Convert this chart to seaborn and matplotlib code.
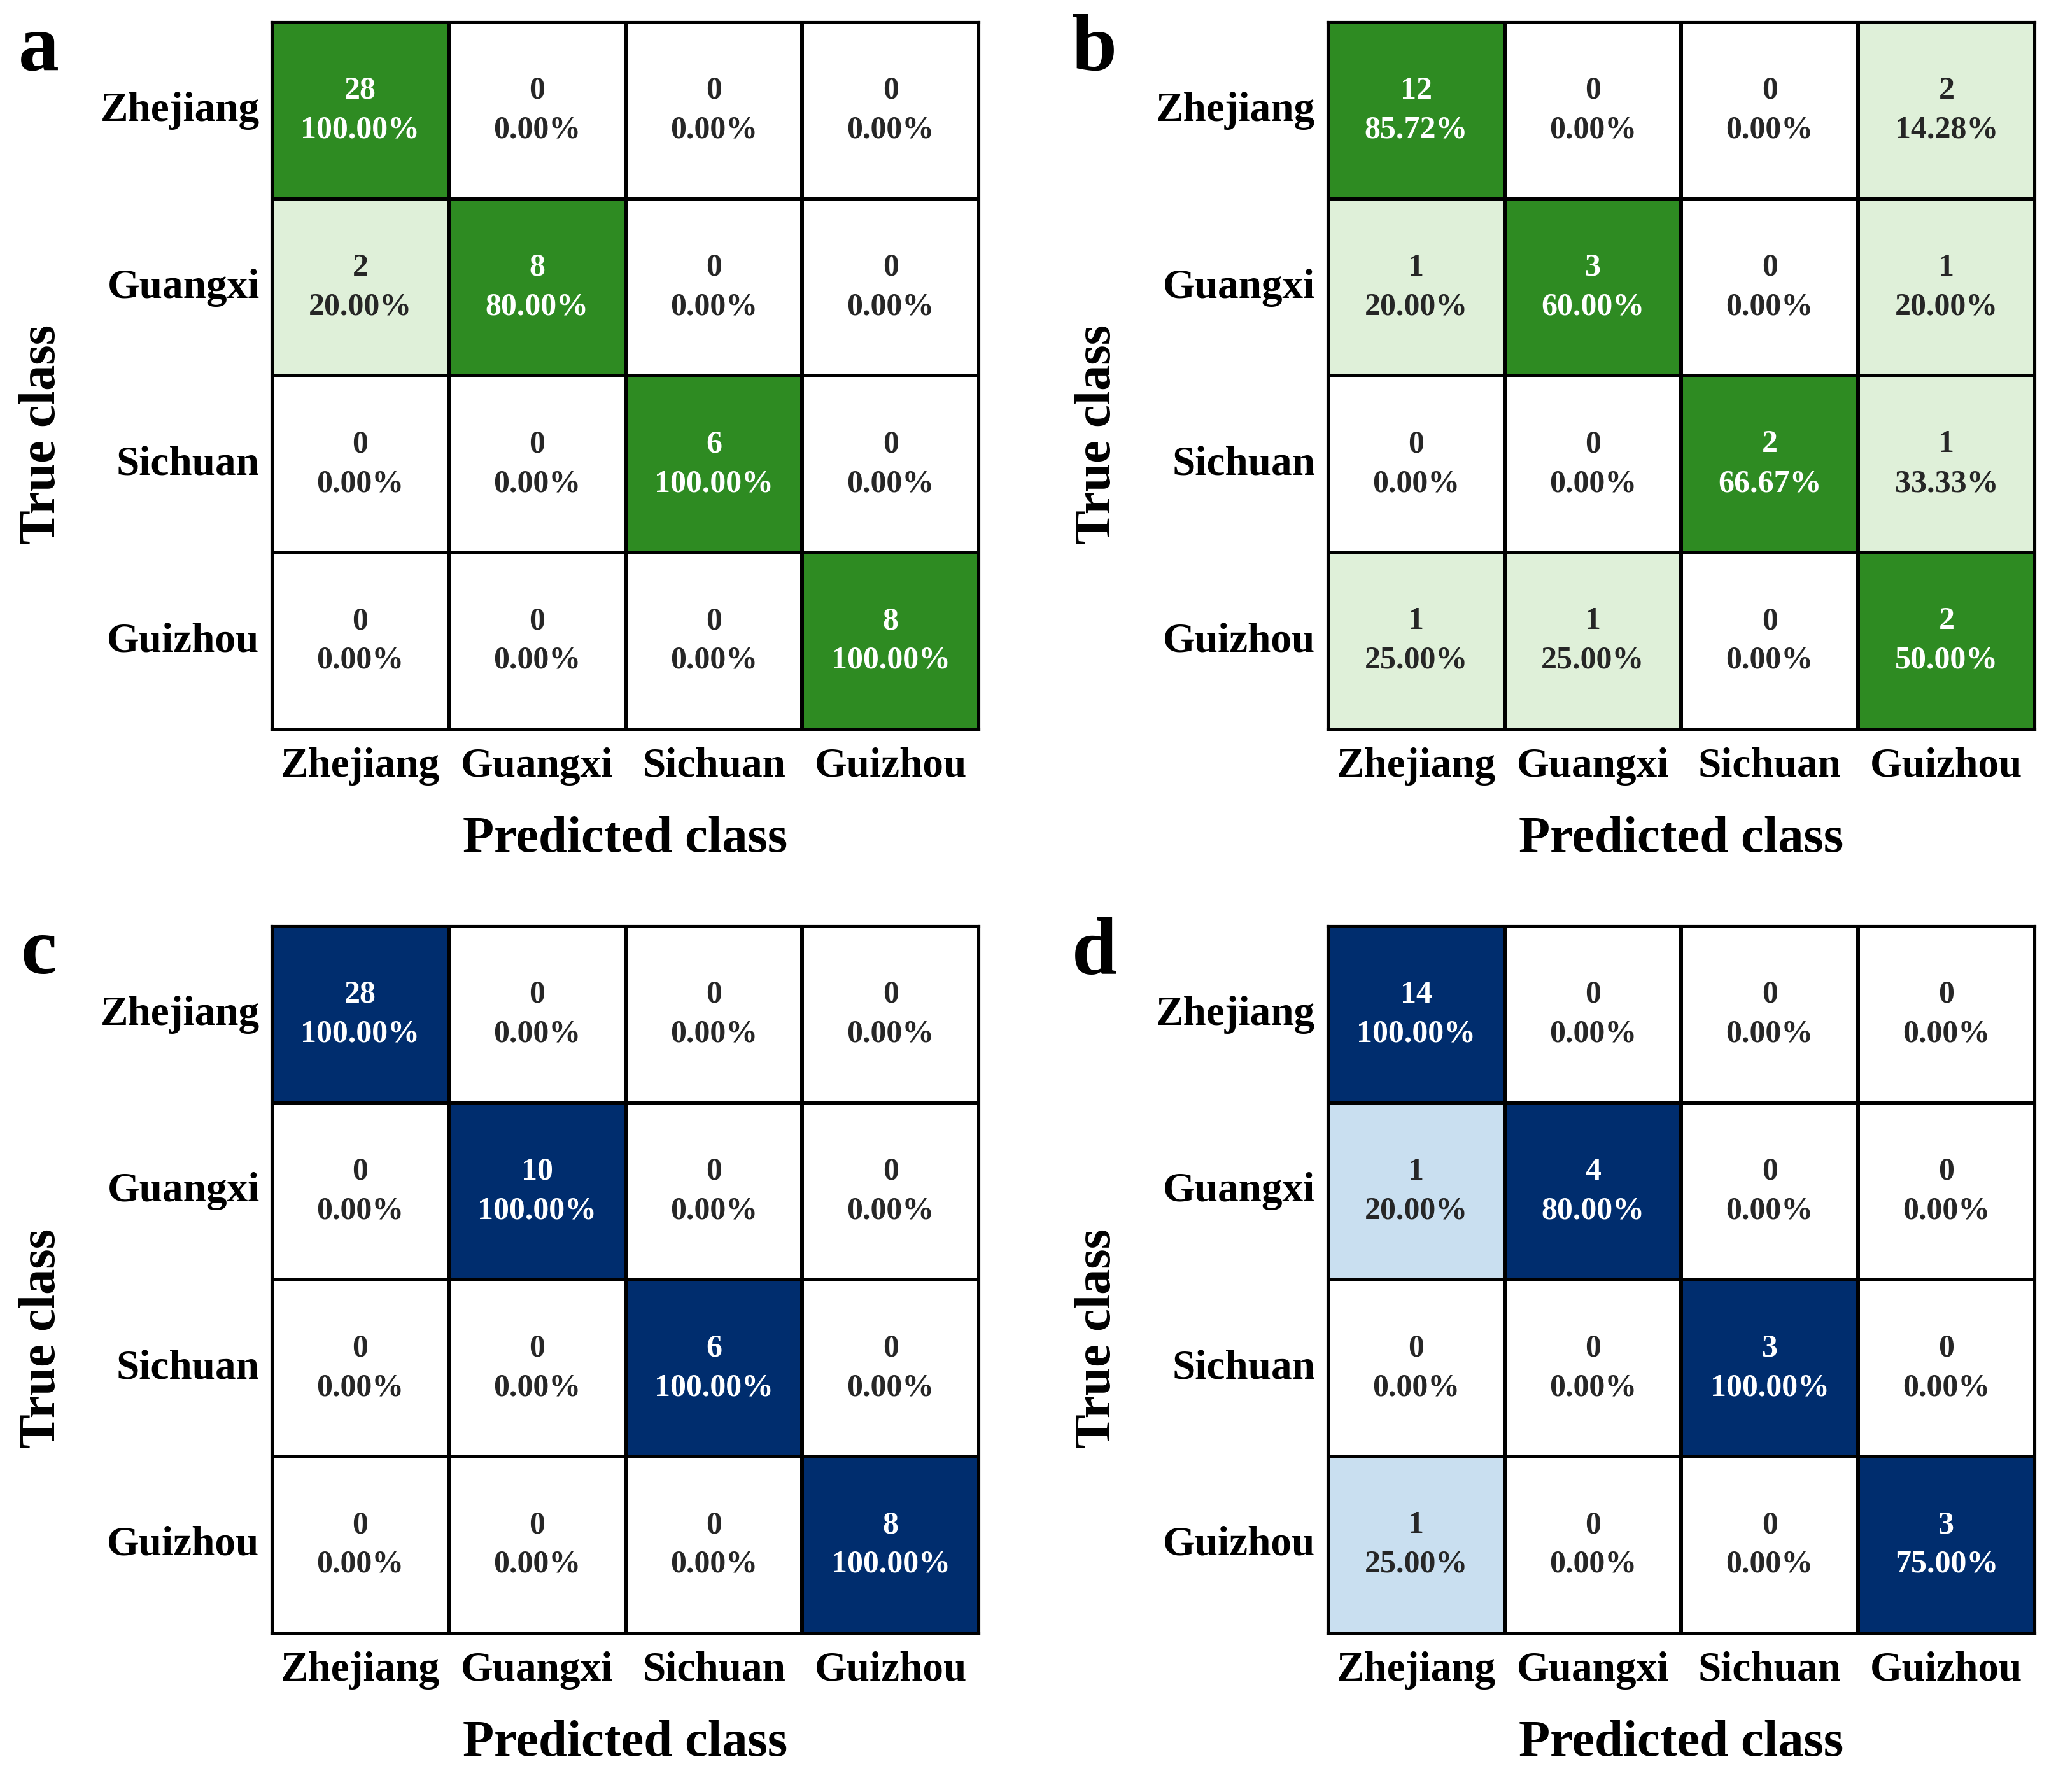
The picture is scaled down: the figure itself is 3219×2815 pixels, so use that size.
import numpy as np
import matplotlib
matplotlib.use("Agg")
import matplotlib.pyplot as plt
from matplotlib.colors import ListedColormap, BoundaryNorm
import seaborn as sns

classes = ["Zhejiang", "Guangxi", "Sichuan", "Guizhou"]

# counts and row percentages, as printed in each cell
counts_a = [[28, 0, 0, 0], [2, 8, 0, 0], [0, 0, 6, 0], [0, 0, 0, 8]]
pct_a = [[100, 0, 0, 0], [20, 80, 0, 0], [0, 0, 100, 0], [0, 0, 0, 100]]

counts_b = [[12, 0, 0, 2], [1, 3, 0, 1], [0, 0, 2, 1], [1, 1, 0, 2]]
pct_b = [[85.72, 0, 0, 14.28], [20, 60, 0, 20], [0, 0, 66.67, 33.33], [25, 25, 0, 50]]

counts_c = [[28, 0, 0, 0], [0, 10, 0, 0], [0, 0, 6, 0], [0, 0, 0, 8]]
pct_c = [[100, 0, 0, 0], [0, 100, 0, 0], [0, 0, 100, 0], [0, 0, 0, 100]]

counts_d = [[14, 0, 0, 0], [1, 4, 0, 0], [0, 0, 3, 0], [1, 0, 0, 3]]
pct_d = [[100, 0, 0, 0], [20, 80, 0, 0], [0, 0, 100, 0], [25, 0, 0, 75]]

greens = ["#ffffff", "#dff0d9", "#2e8b22"]
blues = ["#ffffff", "#c9dff0", "#002d6e"]

plt.rcParams['font.family'] = ['Liberation Serif', 'DejaVu Serif']
plt.rcParams['font.weight'] = 'bold'

W, H = 3219, 2815
fig = plt.figure(figsize=(W / 100, H / 100), dpi=100)

panels = [
    ("a", counts_a, pct_a, greens, 0.1327, 0.5929, 0.019, 0.972),
    ("b", counts_b, pct_b, greens, 0.6480, 0.5929, 0.534, 0.972),
    ("c", counts_c, pct_c, blues, 0.1327, 0.0885, 0.019, 0.4675),
    ("d", counts_d, pct_d, blues, 0.6480, 0.0885, 0.534, 0.4675),
]

for letter, counts, pct, colors, left, bottom, lx, ly in panels:
    ax = fig.add_axes([left, bottom, 0.3451, 0.3947])
    pct = np.array(pct, dtype=float)
    labels = np.array([[f"{c}\n{p:.2f}%" for c, p in zip(rc, rp)]
                       for rc, rp in zip(counts, pct)])
    cmap = ListedColormap(colors)
    norm = BoundaryNorm([0, 0.01, 40, 101], cmap.N)
    sns.heatmap(pct, ax=ax, cmap=cmap, norm=norm, cbar=False,
                annot=labels, fmt="", linewidths=3, linecolor="black",
                annot_kws={"fontsize": 36, "fontweight": "bold",
                           "linespacing": 1.45},
                xticklabels=classes, yticklabels=classes)
    for s in ax.spines.values():
        s.set_visible(True)
        s.set_linewidth(3)
        s.set_color("black")
    ax.tick_params(length=0, labelsize=47)
    ax.tick_params(axis="x", pad=20)
    ax.tick_params(axis="y", pad=14)
    plt.setp(ax.get_yticklabels(), rotation=0, ha="right", va="center")
    plt.setp(ax.get_xticklabels(), rotation=0)
    ax.set_xlabel("Predicted class", fontsize=58, fontweight="bold")
    ax.set_ylabel("True class", fontsize=58, fontweight="bold")
    ax.xaxis.set_label_coords(0.5, -0.155)
    ax.xaxis.label.set_va("center")
    ax.yaxis.set_label_coords(-0.325, 0.417)
    ax.yaxis.label.set_va("center")
    fig.text(lx, ly, letter, fontsize=92, fontweight="bold",
             ha="center", va="center")

fig.savefig("out.png", dpi=100, facecolor="white")
